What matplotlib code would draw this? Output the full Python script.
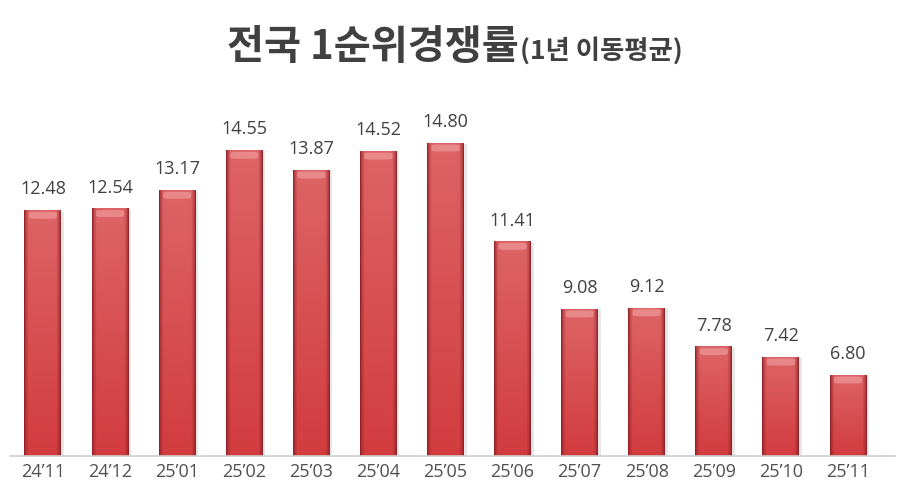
"""전국 1순위경쟁률 (1년 이동평균) bar chart."""

import matplotlib
matplotlib.use("Agg")
import matplotlib.pyplot as plt
import numpy as np
from matplotlib.colors import to_rgb

months = ["24’11", "24’12", "25’01", "25’02", "25’03", "25’04", "25’05",
          "25’06", "25’07", "25’08", "25’09", "25’10", "25’11"]
ratios = [12.48, 12.54, 13.17, 14.55, 13.87, 14.52, 14.80,
          11.41, 9.08, 9.12, 7.78, 7.42, 6.80]

plt.rcParams["font.family"] = ["Open Sans", "Noto Sans CJK KR", "DejaVu Sans"]

fig = plt.figure(figsize=(9.05, 5.01), dpi=100)
ax = fig.add_axes([10 / 905, 45 / 501, 885 / 905, 348 / 501])

x = np.arange(len(months))
bars = ax.bar(x, ratios, width=0.55, bottom=0, color="none", edgecolor="none", zorder=2)
ax.set_xlim(-0.49, 12.7)
ax.set_ylim(4, 16)


def bar_texture(h=200, w=60):
    """Cylinder-like red shading: dark edges, lighter center, lighter top."""
    u = np.linspace(0, 1, w)
    v = np.linspace(0, 1, h)[:, None]  # 0 = bottom, 1 = top
    edge = np.clip(np.minimum(u, 1 - u) / 0.12, 0, 1) ** 0.6
    base = np.array(to_rgb("#d23c3f"))
    top = np.array(to_rgb("#dd6466"))
    dark = np.array(to_rgb("#8c1e22"))
    col = base + (top - base) * v[..., None]
    col = dark + (col - dark) * edge[None, :, None]
    return np.clip(col, 0, 1)


tex = bar_texture()
for rect, val in zip(bars, ratios):
    x0, w = rect.get_x(), rect.get_width()
    # soft shadow on the right
    ax.add_patch(plt.Rectangle((x0 + 0.04, 4), w, val - 4 - 0.05, color="#bbbbbb",
                               alpha=0.35, lw=0, zorder=1))
    im = ax.imshow(tex, extent=(x0, x0 + w, 4, val), origin="lower",
                   aspect="auto", zorder=2, interpolation="bilinear")
    clip = plt.Rectangle((x0, 4), w, val - 4, transform=ax.transData)
    im.set_clip_path(clip)
    # highlight cap on top
    ax.add_patch(matplotlib.patches.FancyBboxPatch(
        (x0 + w * 0.12, val - 0.3), w * 0.76, 0.24,
        boxstyle="round,pad=0,rounding_size=0.1", mutation_aspect=0.5,
        color="#f2a8a8", alpha=0.55, lw=0, zorder=3))
    ax.text(rect.get_x() + w / 2, val + 0.4, f"{val:.2f}", ha="center", va="bottom",
            fontsize=13, color="#404040", zorder=4)

ax.set_xticks(x)
ax.set_xticklabels(months, fontsize=13, color="#505050")
ax.tick_params(axis="x", length=0, pad=5)
ax.set_yticks([])
for side in ["top", "right", "left"]:
    ax.spines[side].set_visible(False)
ax.spines["bottom"].set_color("#cfcfcf")
ax.spines["bottom"].set_linewidth(1.2)

fig.text(0.573, 0.905, "전국 1순위경쟁률", ha="right", va="center", fontsize=29,
         fontweight="bold", color="#404040", family=["Noto Sans CJK KR", "DejaVu Sans"])
fig.text(0.575, 0.898, "(1년 이동평균)", ha="left", va="center", fontsize=19,
         fontweight="bold", color="#404040", family=["Noto Sans CJK KR", "DejaVu Sans"])

fig.savefig("out.png", dpi=100)
